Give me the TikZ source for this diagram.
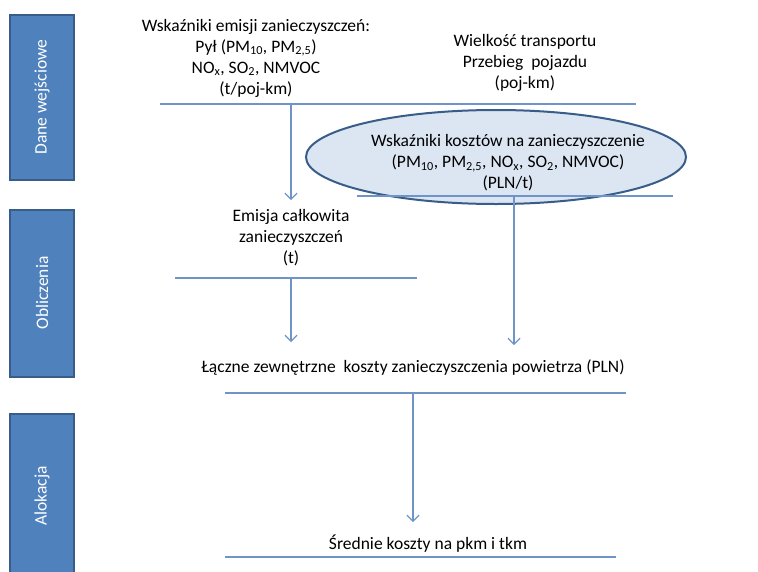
\documentclass[tikz,border=0pt]{standalone}
\usepackage{fontspec}
\setmainfont{Carlito}
\usetikzlibrary{arrows.meta}
\definecolor{boxblue}{HTML}{4F81BD}
\definecolor{boxedge}{HTML}{385D8A}
\definecolor{rulecol}{HTML}{6F95C8}
\definecolor{ellfill}{HTML}{DCE6F2}
\tikzset{
  phase/.style={draw=boxedge,line width=1.5pt,fill=boxblue},
  phasetext/.style={rotate=90,text=white,font=\fontsize{17.5}{20}\selectfont},
  txt/.style={align=center,font=\fontsize{17.5}{21}\selectfont,inner sep=0pt},
  rule/.style={draw=rulecol,line width=1.2pt},
  arr/.style={draw=rulecol,line width=1.2pt,-{Straight Barb[length=6pt,width=12pt]}}
}
\begin{document}
\begin{tikzpicture}[x=1pt,y=-1pt]
\useasboundingbox (0,0) rectangle (758,571);

% Draw the phase boxes
\draw[phase] (10,15) rectangle (74,180);
\draw[phase] (10,210) rectangle (74,377);
\draw[phase] (10,414) rectangle (74,580);
\node[phasetext] (dane) at (42,97) {Dane wejściowe};
\node[phasetext] (obl) at (42,293) {Obliczenia};
\node[phasetext] (alok) at (42,496) {Alokacja};

% Input data
\node[txt] (emis) at (256,58) {Wskaźniki emisji zanieczyszczeń:\\
  Pył (PM\textsubscript{10}, PM\textsubscript{2,5})\\
  NO\textsubscript{x}, SO\textsubscript{2}, NMVOC\\
  (t/poj-km)};
\node[txt] (trans) at (525,63) {Wielkość transportu\\Przebieg~ pojazdu\\(poj-km)};
\coordinate (r1a) at (160,104);
\coordinate (r1b) at (636,104);
\draw[rule] (r1a) -- (r1b);

% Draw the ellipse
\draw[draw=boxedge,line width=2pt,fill=ellfill] (496,157) ellipse (190 and 47);
\node[txt] (wsk) at (508,163) {Wskaźniki kosztów na zanieczyszczenie\\
  (PM\textsubscript{10}, PM\textsubscript{2,5}, NO\textsubscript{x}, SO\textsubscript{2}, NMVOC)\\
  (PLN/t)};
\coordinate (r2a) at (357,196);
\coordinate (r2b) at (673,196);
\draw[rule] (r2a) -- (r2b);

% Calculations
\node[txt] (emc) at (291,238) {Emisja całkowita\\zanieczyszczeń\\(t)};
\coordinate (r3a) at (175,278);
\coordinate (r3b) at (417,278);
\draw[rule] (r3a) -- (r3b);

\node[txt] (lacz) at (413,368) {Łączne zewnętrzne~ koszty zanieczyszczenia powietrza (PLN)};
\coordinate (r4a) at (225,393);
\coordinate (r4b) at (626,393);
\draw[rule] (r4a) -- (r4b);

% Allocation
\node[txt] (sred) at (428,544) {Średnie koszty na pkm i tkm};
\coordinate (r5a) at (225,557);
\coordinate (r5b) at (616,557);
\draw[rule] (r5a) -- (r5b);

% Draw the arrows
\coordinate (a1) at (291,104);
\coordinate (t1) at (291,200);
\coordinate (a2) at (514,196);
\coordinate (t2) at (514,345);
\coordinate (a3) at (291,278);
\coordinate (t3) at (291,342);
\coordinate (a4) at (413,393);
\coordinate (t4) at (413,522);
\draw[arr] (a1) -- (t1);
\draw[arr] (a2) -- (t2);
\draw[arr] (a3) -- (t3);
\draw[arr] (a4) -- (t4);
\end{tikzpicture}
\end{document}
